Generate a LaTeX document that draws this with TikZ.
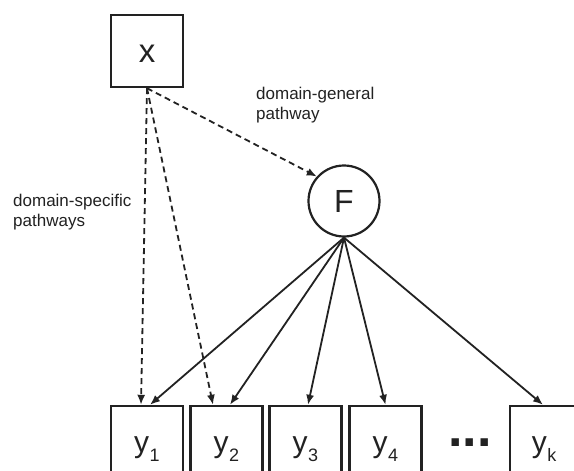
\documentclass[tikz,border=0pt]{standalone}
\usepackage{fontspec}
\setmainfont{Liberation Sans}
\usetikzlibrary{arrows.meta}
\definecolor{ink}{HTML}{222222}
\newcommand\ysubs[1]{y\kern0.5pt\raisebox{-9pt}{\fontsize{18}{18}\selectfont #1}}
\begin{document}
\begin{tikzpicture}[x=1pt,y=-1pt,
  box/.style={draw=ink, line width=2.4pt, minimum width=72pt, minimum height=72pt, inner sep=0pt},
  latent/.style={draw=ink, line width=2.2pt, circle, minimum size=71pt, inner sep=0pt, font=\fontsize{32}{32}\selectfont, text=ink},
  big/.style={font=\fontsize{33}{33}\selectfont, text=ink, inner sep=0pt, anchor=base},
  ybig/.style={font=\fontsize{30}{30}\selectfont, text=ink, inner sep=0pt, anchor=base},
  lbl/.style={font=\fontsize{17}{20.5}\selectfont, text=ink, align=left, inner sep=0pt, anchor=north west},
  tip/.style={-{Latex[length=10pt,width=8pt]}, line width=1.8pt, draw=ink},
  dsh/.style={tip, dash pattern=on 6pt off 4pt},
]
\clip (0,0) rectangle (574,471);
\fill[white] (0,0) rectangle (574,471);

% nodes
\node[box] (X) at (147,51) {};
\node[big] (Xt) at (147,63) {x};
\node[latent] (F) at (344,201) {F};

\node[box] (Y1) at (147,442) {};
\node[box] (Y2) at (226.5,442) {};
\node[box] (Y3) at (305.5,442) {};
\node[box] (Y4) at (385.5,442) {};
\node[box] (Yk) at (546,442) {};

\node[ybig] (Y1t) at (147,452) {\ysubs{1}};
\node[ybig] (Y2t) at (226.5,452) {\ysubs{2}};
\node[ybig] (Y3t) at (305.5,452) {\ysubs{3}};
\node[ybig] (Y4t) at (385.5,452) {\ysubs{4}};
\node[ybig] (Ykt) at (544,452) {\ysubs{k}};
\node[font=\fontsize{52}{52}\selectfont\bfseries, text=ink, inner sep=0pt, anchor=base] (dots) at (470,446) {...};

% labels
\node[lbl] (lg) at (256,86.7) {domain-general\\pathway};
\node[lbl] (ls) at (13,193.7) {domain-specific\\pathways};

% dashed pathways
\draw[dsh] (X.south) -- (F.138);
\draw[dsh] (X.south) -- ([xshift=-6pt]Y1.north);
\draw[dsh] (X.south) -- ([xshift=-13.5pt]Y2.north);

% loadings
\draw[tip] (F.south) -- ([xshift=3pt]Y1.north);
\draw[tip] (F.south) -- ([xshift=3.5pt]Y2.north);
\draw[tip] (F.south) -- ([xshift=2.5pt]Y3.north);
\draw[tip] (F.south) -- ([xshift=0pt]Y4.north);
\draw[tip] (F.south) -- ([xshift=-3pt]Yk.north);
\end{tikzpicture}
\end{document}
